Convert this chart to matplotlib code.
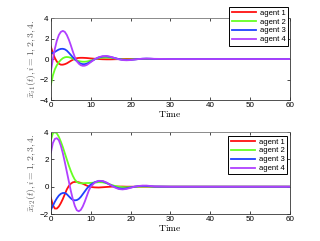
import numpy as np
import matplotlib
matplotlib.use("Agg")
import matplotlib.pyplot as plt

plt.rcParams['mathtext.fontset'] = 'cm'
plt.rcParams['font.family'] = ['Liberation Sans', 'DejaVu Sans']

t = [0, 0.5, 1, 1.5, 2, 2.5, 3, 3.5, 4, 4.5, 5, 5.5, 6, 6.5, 7, 7.5, 8, 8.5, 9, 9.5, 10,
     11, 12, 13, 14, 15, 16, 17, 18, 19, 20, 21, 22, 23, 24, 25, 26, 30, 60]

# first component x_i1
x1_a1 = [1.2, 0.6, 0.1, -0.25, -0.45, -0.55, -0.55, -0.5, -0.42, -0.3, -0.18, -0.07, 0.02, 0.08, 0.11, 0.12, 0.12, 0.11, 0.1, 0.08, 0.06,
         0.03, 0.0, -0.02, -0.03, -0.03, -0.02, -0.01, 0.0, 0.01, 0.01, 0, 0, 0, 0, 0, 0, 0, 0]
x1_a2 = [-2.5, -1.6, -1.0, -0.6, -0.3, -0.08, 0.08, 0.17, 0.2, 0.18, 0.12, 0.04, -0.05, -0.13, -0.2, -0.24, -0.26, -0.26, -0.24, -0.2, -0.14,
         -0.02, 0.08, 0.14, 0.15, 0.12, 0.06, 0.0, -0.04, -0.05, -0.04, -0.02, 0.0, 0.01, 0.02, 0.01, 0, 0, 0]
x1_a3 = [0.55, 0.6, 0.7, 0.82, 0.93, 0.99, 1.0, 0.95, 0.82, 0.62, 0.4, 0.18, -0.02, -0.2, -0.35, -0.45, -0.5, -0.5, -0.45, -0.36, -0.25,
         -0.02, 0.15, 0.25, 0.26, 0.2, 0.1, 0.0, -0.07, -0.1, -0.08, -0.04, 0.0, 0.03, 0.04, 0.03, 0.01, 0, 0]
x1_a4 = [-1.2, 0.0, 1.0, 1.8, 2.35, 2.65, 2.75, 2.65, 2.35, 1.9, 1.35, 0.75, 0.2, -0.2, -0.45, -0.6, -0.66, -0.65, -0.58, -0.45, -0.3,
         -0.02, 0.18, 0.28, 0.3, 0.22, 0.1, -0.02, -0.1, -0.12, -0.1, -0.05, 0.0, 0.03, 0.05, 0.04, 0.02, 0, 0]

# second component x_i2
x2_a1 = [-0.8, -1.35, -1.6, -1.6, -1.45, -1.2, -0.9, -0.55, -0.2, 0.05, 0.22, 0.32, 0.35, 0.35, 0.32, 0.28, 0.22, 0.15, 0.08, 0.02, -0.02,
         -0.05, -0.06, -0.04, -0.02, 0.0, 0.01, 0.01, 0.01, 0, 0, 0, 0, 0, 0, 0, 0, 0, 0]
x2_a2 = [3.4, 3.9, 4.0, 3.9, 3.65, 3.3, 2.9, 2.45, 2.0, 1.55, 1.15, 0.8, 0.52, 0.35, 0.27, 0.25, 0.25, 0.26, 0.27, 0.27, 0.28,
         0.3, 0.33, 0.32, 0.25, 0.15, 0.06, 0.0, -0.03, -0.04, -0.03, -0.01, 0.0, 0.01, 0.01, 0, 0, 0, 0]
x2_a3 = [-1.7, -1.4, -1.1, -0.85, -0.65, -0.52, -0.46, -0.46, -0.55, -0.7, -0.85, -0.96, -1.0, -0.98, -0.9, -0.75, -0.55, -0.35, -0.15, 0.02, 0.15,
         0.33, 0.42, 0.4, 0.28, 0.12, -0.02, -0.12, -0.15, -0.12, -0.06, 0.0, 0.04, 0.06, 0.05, 0.03, 0.01, 0, 0]
x2_a4 = [2.5, 3.2, 3.5, 3.55, 3.4, 3.0, 2.45, 1.8, 1.1, 0.4, -0.3, -0.9, -1.4, -1.72, -1.8, -1.7, -1.45, -1.1, -0.7, -0.3, 0.0,
         0.3, 0.43, 0.42, 0.3, 0.12, -0.05, -0.17, -0.2, -0.16, -0.08, 0.0, 0.05, 0.08, 0.08, 0.05, 0.02, 0, 0]

labels = ['agent 1', 'agent 2', 'agent 3', 'agent 4']
colors = ['#ff1010', '#66ff22', '#2040ff', '#b040ff']

fig = plt.figure(figsize=(3.2, 2.41), dpi=100)
ax1 = fig.add_axes([0.159, 0.585, 0.747, 0.340])
ax2 = fig.add_axes([0.159, 0.112, 0.747, 0.340])

panels = [
    (ax1, [x1_a1, x1_a2, x1_a3, x1_a4], (-4, 4), [-4, -2, 0, 2, 4],
     r'$\bar{x}_{i1}(t), i=1,2,3,4.$', (0.9, 0.971)),
    (ax2, [x2_a1, x2_a2, x2_a3, x2_a4], (-2, 4), [-2, 0, 2, 4],
     r'$\bar{x}_{i2}(t), i=1,2,3,4.$', (0.897, 0.436)),
]

for ax, series, ylim, yticks, ylab, anchor in panels:
    for y, c, lab in zip(series, colors, labels):
        ax.plot(t, y, color=c, lw=1.3, label=lab)
    ax.set_xlim(0, 60)
    ax.set_ylim(*ylim)
    ax.set_yticks(yticks)
    ax.set_xticks([0, 10, 20, 30, 40, 50, 60])
    ax.tick_params(direction='in', top=True, right=True, labelsize=5.8,
                   length=2, width=0.5, pad=1.5)
    for s in ax.spines.values():
        s.set_linewidth(0.6)
        s.set_color('#333333')
    ax.spines['top'].set_color('#777777')
    ax.set_xlabel(r'$\mathrm{Time}$', fontsize=7, labelpad=0)
    ax.set_ylabel(ylab, fontsize=7, labelpad=1, color='#555555')
    leg = ax.legend(loc='upper right', bbox_to_anchor=anchor,
                    bbox_transform=fig.transFigure, fontsize=5.5,
                    fancybox=False, framealpha=1, edgecolor='black',
                    handlelength=3.2, borderpad=0.3, labelspacing=0.2,
                    handletextpad=0.5, borderaxespad=0)
    leg.get_frame().set_linewidth(0.7)

fig.savefig('out.png', dpi=100)
